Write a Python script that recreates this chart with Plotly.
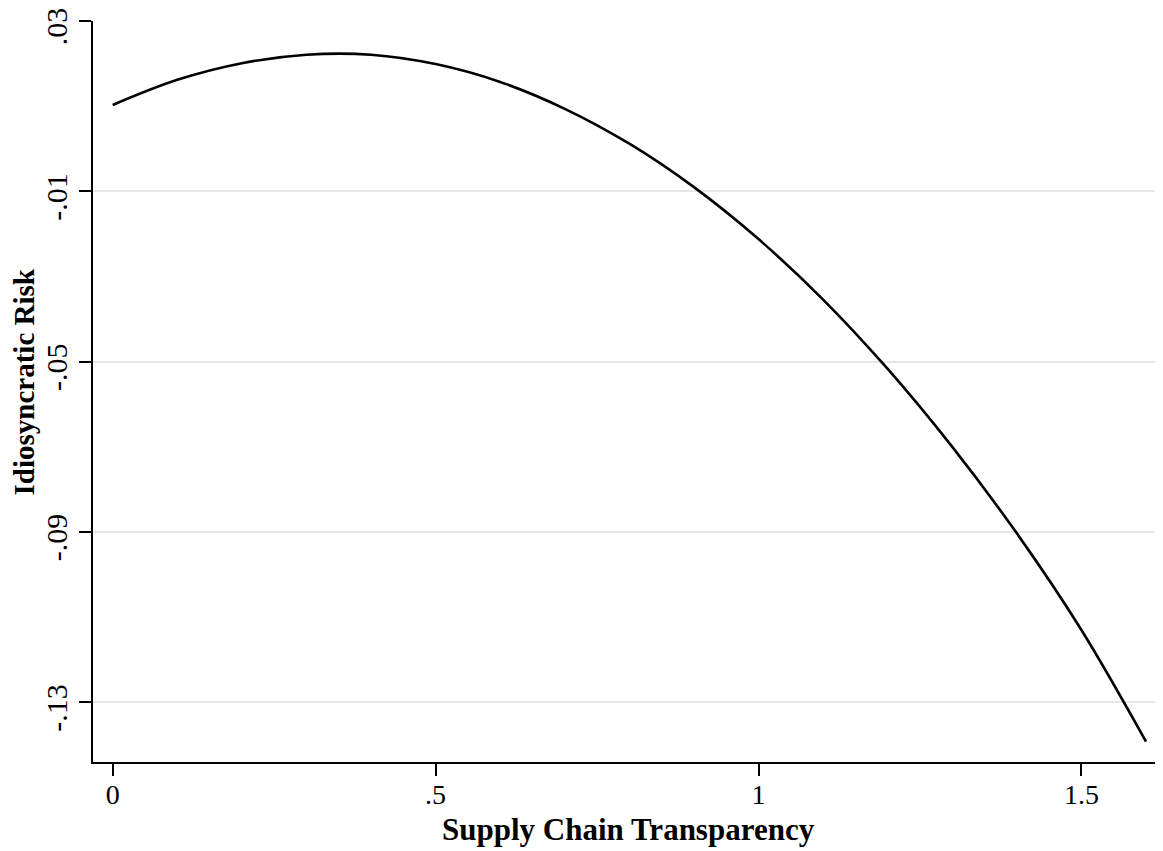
import plotly.graph_objects as go

# Data
transparency = [0.0, 0.1, 0.2, 0.3, 0.4, 0.5, 0.6, 0.7, 0.8, 0.9, 1.0, 1.1, 1.2, 1.3, 1.4, 1.5, 1.6]
idio_risk = [0.0103, 0.0162, 0.0201, 0.0221, 0.0221, 0.0199, 0.0157, 0.0094, 0.0012, -0.0090,
             -0.0212, -0.0354, -0.0517, -0.0700, -0.0903, -0.1130, -0.1392]

x_tick_vals = [0, 0.5, 1, 1.5]
x_tick_text = ["0", ".5", "1", "1.5"]
y_tick_vals = [0.03, -0.01, -0.05, -0.09, -0.13]
y_tick_text = [".03", "-.01", "-.05", "-.09", "-.13"]

FONT = "Liberation Serif, Times New Roman, serif"

fig = go.Figure()
fig.add_trace(go.Scatter(
    x=transparency, y=idio_risk, mode="lines",
    line=dict(color="black", width=2.6, shape="spline", smoothing=1.0),
    showlegend=False, hoverinfo="skip",
))

fig.update_layout(
    width=1155, height=843,
    margin=dict(l=85, r=0, t=13, b=89),
    paper_bgcolor="white", plot_bgcolor="white",
    font=dict(family=FONT, color="black", size=28),
    xaxis=dict(
        range=[-0.0305, 1.6263], tickvals=x_tick_vals, ticktext=x_tick_text,
        showline=True, linecolor="black", linewidth=2,
        ticks="outside", ticklen=12, tickwidth=2, tickcolor="black",
        showgrid=False, zeroline=False, automargin=False,
        ticklabelstandoff=-6, ticklabeloverflow="allow",
        tickfont=dict(family=FONT, size=28, color="black"),
    ),
    yaxis=dict(
        range=[-0.1440, 0.03002], tickvals=y_tick_vals, ticktext=y_tick_text,
        showline=True, linecolor="black", linewidth=2,
        ticks="outside", ticklen=12, tickwidth=2, tickcolor="black",
        showgrid=True, gridcolor="#e6e6e6", gridwidth=2, zeroline=False,
        tickangle=-90, automargin=False, ticklabeloverflow="allow",
        ticklabelshift=10,
        tickfont=dict(family=FONT, size=30, color="black"),
    ),
    annotations=[
        dict(text="<b>Supply Chain Transparency</b>", xref="paper", yref="paper",
             x=0.5, y=-0.0648, xanchor="center", yanchor="top", showarrow=False,
             font=dict(family=FONT, size=31, color="black")),
        dict(text="<b>Idiosyncratic Risk</b>", xref="paper", yref="paper",
             x=-0.0636, y=0.5135, xanchor="center", yanchor="middle", showarrow=False,
             textangle=-90, font=dict(family=FONT, size=29, color="black")),
    ],
)

fig.write_html("out.html")
